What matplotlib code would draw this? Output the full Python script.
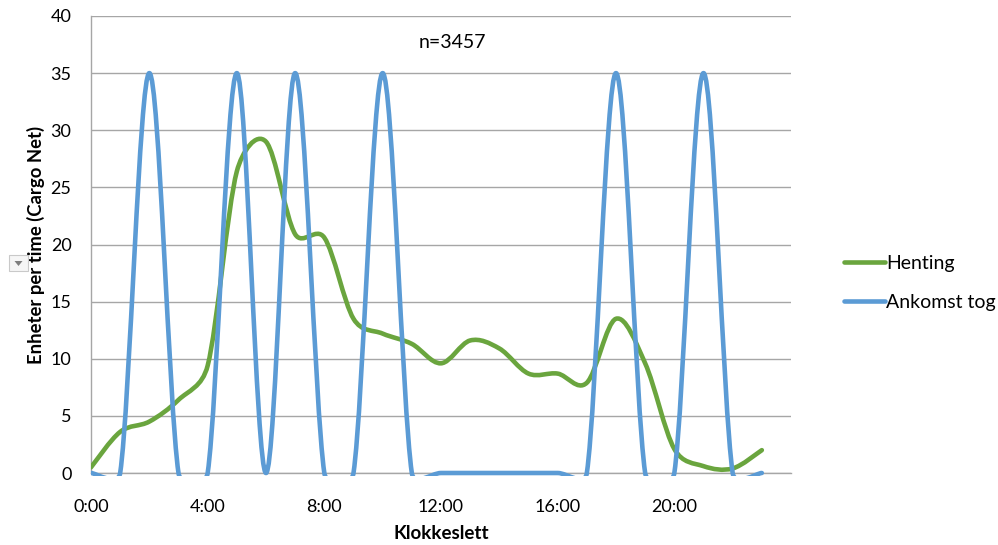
"""
Henting vs. ankomst tog per time, Excel-style smoothed lines.
"""
import numpy as np
import matplotlib
matplotlib.use("Agg")
import matplotlib.pyplot as plt
from matplotlib.path import Path
from matplotlib.patches import PathPatch, Rectangle, Polygon
from matplotlib.lines import Line2D

plt.rcParams["font.family"] = ["Lato", "DejaVu Sans"]

# data (one value per hour)
hours = list(range(24))
henting = [0.5, 3.6, 4.5, 6.4, 9.4, 26.4, 29.0, 20.9, 20.6, 13.5, 12.2, 11.3,
           9.6, 11.6, 10.9, 8.7, 8.7, 7.9, 13.5, 9.6, 2.1, 0.6, 0.4, 2.0]
ankomst_tog = [0, 0, 35, 0, 0, 35, 0, 35, 0, 0, 35, 0,
               0, 0, 0, 0, 0, 0, 35, 0, 0, 35, 0, 0]
tick_hours = [0, 4, 8, 12, 16, 20]
tick_labels = ["0:00", "4:00", "8:00", "12:00", "16:00", "20:00"]
y_ticks = [0, 5, 10, 15, 20, 25, 30, 35, 40]
series_names = ["Henting", "Ankomst tog"]
n_label = "n=3457"

C_GREEN = "#6AA53E"
C_BLUE = "#5B9BD5"
C_GRID = "#A6A6A6"
LW = 3.3


def smooth_path(ax, xs, ys):
    # Excel's smoothed line: bezier with 1/6 tangents, capped at half a segment
    # (worked out in screen space, so the picture's aspect matters)
    pts = ax.transData.transform(np.column_stack([xs, ys]))
    n = len(pts)
    verts = [pts[0]]
    codes = [Path.MOVETO]
    for i in range(n - 1):
        p0 = pts[max(i - 1, 0)]
        p1 = pts[i]
        p2 = pts[i + 1]
        p3 = pts[min(i + 2, n - 1)]
        d12 = np.hypot(*(p2 - p1))
        d02 = np.hypot(*(p2 - p0))
        d13 = np.hypot(*(p3 - p1))
        f1 = 1 / 6 if d02 / 6 < d12 / 2 else d12 / d02 / 2
        f2 = 1 / 6 if d13 / 6 < d12 / 2 else d12 / d13 / 2
        verts += [p1 + f1 * (p2 - p0), p2 - f2 * (p3 - p1), p2]
        codes += [Path.CURVE4] * 3
    verts = ax.transData.inverted().transform(np.array(verts))
    return Path(verts, codes)


fig = plt.figure(figsize=(9.98, 5.45), dpi=100)
ax = fig.add_axes([91 / 998, 1 - 473 / 545, 700 / 998, 457 / 545])
ax.set_xlim(0, 24)
ax.set_ylim(0, 40)

ax.set_yticks(y_ticks)
ax.set_xticks(tick_hours)
ax.set_xticklabels(tick_labels)
ax.tick_params(length=0, labelsize=13, colors="black")
ax.tick_params(axis="y", pad=14)
ax.tick_params(axis="x", pad=19)
ax.grid(axis="y", color=C_GRID, lw=1.0)
ax.set_axisbelow(True)
for s in ("top", "right"):
    ax.spines[s].set_visible(False)
for s in ("left", "bottom"):
    ax.spines[s].set_color(C_GRID)
    ax.spines[s].set_linewidth(1.0)

# clip a touch below zero so the flat zero stretch keeps its full stroke
clip = Rectangle((0, -0.22), 24, 41, transform=ax.transData, visible=False)
ax.add_patch(clip)

for ys, col in ((henting, C_GREEN), (ankomst_tog, C_BLUE)):
    p = PathPatch(smooth_path(ax, hours, ys), fc="none", ec=col, lw=LW,
                  joinstyle="round", capstyle="round", zorder=3)
    ax.add_patch(p)
    p.set_clip_path(clip)

ax.text(12.4, 37.7, n_label, ha="center", va="center", fontsize=14)

ax.set_xlabel("Klokkeslett", fontsize=13.5, fontweight="bold")
ax.xaxis.set_label_coords(0.5, -0.113)
ax.set_ylabel("Enheter per time (Cargo Net)", fontsize=13.3, fontweight="bold")
ax.yaxis.set_label_coords(-0.066, 0.5)

handles = [Line2D([], [], color=C_GREEN, lw=LW, solid_capstyle="round"),
           Line2D([], [], color=C_BLUE, lw=LW, solid_capstyle="round")]
fig.legend(handles, series_names, loc="center left",
           bbox_to_anchor=(834 / 998, 1 - 283 / 545), frameon=False,
           fontsize=14, handlelength=2.1, handletextpad=0.1,
           labelspacing=1.15, borderpad=0)

# the little filter drop-down button left of the axis title
fig.patches.append(Rectangle((9 / 998, 1 - 271 / 545), 19 / 998, 16 / 545,
                             transform=fig.transFigure, fc="#F6F6F6",
                             ec="#C9C9C9", lw=0.8))
fig.patches.append(Polygon([(14.5 / 998, 1 - 261 / 545), (22.5 / 998, 1 - 261 / 545),
                            (18.5 / 998, 1 - 266 / 545)],
                           transform=fig.transFigure, fc="#7F7F7F", ec="none"))

fig.savefig("out.png", dpi=100, facecolor="white")
